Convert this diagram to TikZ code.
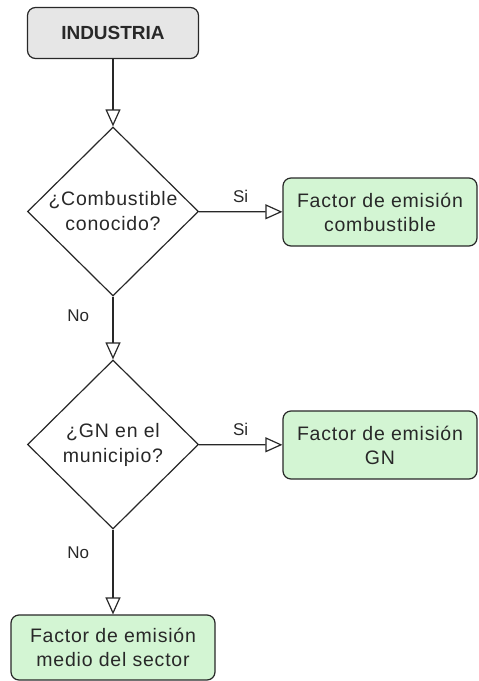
\documentclass[tikz,border=0pt]{standalone}
\usepackage{fontspec}
\setmainfont{Liberation Sans}
\usetikzlibrary{shapes.geometric, arrows.meta}
\definecolor{boxgreen}{RGB}{211,245,211}
\definecolor{boxgray}{RGB}{230,230,230}
\definecolor{ink}{RGB}{40,40,40}

\tikzset{
    startbox/.style={draw=ink, fill=boxgray, rounded corners=8pt, line width=1.2pt,
        minimum width=171pt, minimum height=51pt, inner sep=0pt,
        font=\fontsize{19}{23}\selectfont\bfseries, text=ink},
    resultbox/.style={draw=ink, fill=boxgreen, rounded corners=8pt, line width=1.2pt,
        minimum width=194pt, minimum height=68pt, inner sep=0pt, align=center,
        font=\fontsize{19.5}{24}\selectfont\addfontfeature{LetterSpace=4}, text=ink},
    decision/.style={draw=ink, diamond, line width=1.2pt, fill=white,
        minimum width=171pt, minimum height=169pt, inner sep=0pt},
    decisiontext/.style={align=center, inner sep=0pt, text=ink,
        font=\fontsize{19.5}{25}\selectfont\addfontfeature{LetterSpace=4}},
    flow/.style={draw=ink, line width=1.2pt, line join=miter,
        -{Triangle[open, length=17pt, width=15pt]}},
    answer/.style={font=\fontsize{17}{20}\selectfont, text=ink}
}

\begin{document}
\begin{tikzpicture}[x=1pt, y=1pt]
    % page frame
    \useasboundingbox (0,0) rectangle (479,-681);

    % nodes
    \node[startbox] (ind) at (113,-33) {INDUSTRIA};
    \node[decision, label={[decisiontext]center:¿Combustible\\conocido?}] (dec1) at (113,-211.5) {};
    \node[decision, label={[decisiontext]center:¿GN en el\\municipio?}] (dec2) at (113,-444.5) {};
    \node[resultbox] (fcomb) at (380,-212) {Factor de emisión\\combustible};
    \node[resultbox] (fgn) at (380,-445) {Factor de emisión\\GN};
    \node[resultbox, minimum width=204pt, minimum height=65pt] (fmed) at (113,-647.5) {Factor de emisión\\medio del sector};

    % connectors
    \draw[flow] (ind) -- (dec1);
    \draw[flow] (dec1) -- node[answer, above=5pt] {Si} (fcomb);
    \draw[flow] (dec1) -- node[answer, pos=0.31, left=20pt] {No} (dec2);
    \draw[flow] (dec2) -- node[answer, above=5pt] {Si} (fgn);
    \draw[flow] (dec2) -- node[answer, pos=0.27, left=20pt] {No} (fmed);
\end{tikzpicture}
\end{document}
